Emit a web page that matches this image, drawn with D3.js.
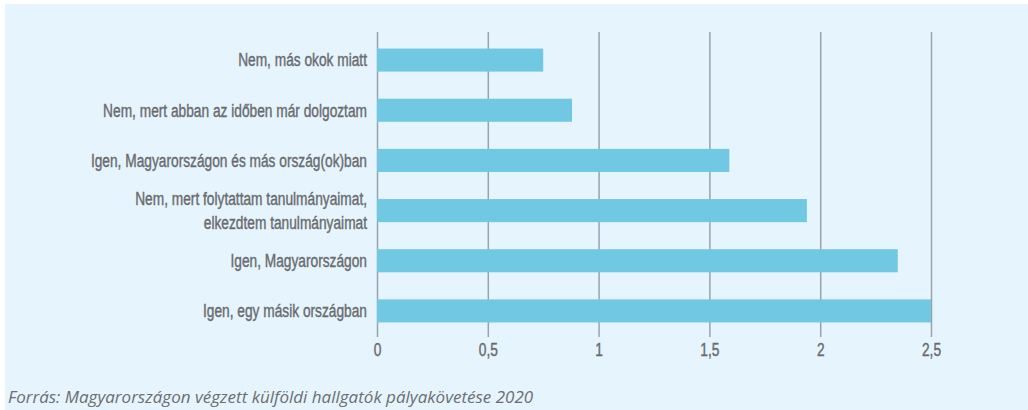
<!DOCTYPE html>
<html>
<head>
<meta charset="utf-8">
<script src="https://d3js.org/d3.v7.min.js"></script>
<style>
  body { margin: 0; background: #ffffff; }
  svg { display: block; }
  .cat text, .axis text { font-family: "Liberation Sans", Arial, sans-serif; fill: #6a6b6e; stroke: #6a6b6e; stroke-width: 0.4px; }
  .source { font-family: "Open Sans", sans-serif; font-style: italic; fill: #6d6e71; }
</style>
</head>
<body>
<div class="wrapper"></div>
<script>
// data
var categories = [
  "Nem, más okok miatt",
  "Nem, mert abban az időben már dolgoztam",
  "Igen, Magyarországon és más ország(ok)ban",
  "Nem, mert folytattam tanulmányaimat,\nelkezdtem tanulmányaimat",
  "Igen, Magyarországon",
  "Igen, egy másik országban"
];
var values = [0.75, 0.88, 1.59, 1.94, 2.35, 2.5];
var tickValues = [0, 0.5, 1, 1.5, 2, 2.5];
var sourceText = "Forrás: Magyarországon végzett külföldi hallgatók pályakövetése 2020";

// dimensions
var W = 1028, H = 410;
var plot = {left: 377, right: 931, top: 32, bottom: 337};
var fontSize = 18;

var svg = d3.select(".wrapper")
  .append("svg")
    .attr("width", W)
    .attr("height", H);

// light blue panel
svg.append("rect")
  .attr("x", 5).attr("y", 4)
  .attr("width", W - 5).attr("height", H - 4)
  .attr("fill", "#e5f4fd");

var x = d3.scaleLinear()
  .domain([0, 2.5])
  .range([plot.left, plot.right]);

var y = d3.scaleBand()
  .domain(categories)
  .range([35, 336])
  .paddingInner(0.54)
  .paddingOuter(0.27);

// hungarian decimal comma
var hu = d3.formatLocale({decimal: ",", thousands: " ", grouping: [3], currency: ["", " Ft"]});
var fmt = hu.format("~g");

// the original uses a condensed font: measure one label and squeeze horizontally
var probe = svg.append("text")
  .style("font-family", "'Liberation Sans', Arial, sans-serif")
  .style("font-size", fontSize + "px")
  .text(categories[1]);
var squeeze = 264 / probe.node().getComputedTextLength();
probe.remove();

// gridlines + ticks
var xAxis = svg.append("g")
  .attr("class", "axis")
  .attr("transform", "translate(0," + plot.bottom + ")")
  .call(d3.axisBottom(x)
    .tickValues(tickValues)
    .tickFormat(fmt)
    .tickSize(-(plot.bottom - plot.top)));

xAxis.select(".domain").remove();
xAxis.selectAll("line")
  .attr("stroke", "#9aa3ab")
  .attr("stroke-width", 1.5);
xAxis.selectAll("text")
  .attr("y", 6)
  .attr("dy", "0.71em")
  .attr("transform", "scale(" + squeeze + ",1)")
  .style("font-size", fontSize + "px");

// bars
svg.selectAll("myBar")
  .data(categories)
  .enter()
  .append("rect")
    .attr("x", x(0))
    .attr("y", function(d) { return y(d); })
    .attr("width", function(d, i) { return x(values[i]) - x(0); })
    .attr("height", y.bandwidth())
    .attr("fill", "#71c8e3");

// category labels
var cat = svg.append("g").attr("class", "cat");
cat.selectAll("text")
  .data(categories)
  .enter()
  .append("text")
    .attr("text-anchor", "end")
    .style("font-size", fontSize + "px")
    .attr("transform", function(d) {
      return "translate(" + (plot.left - 10) + "," + (y(d) + y.bandwidth() / 2) + ") scale(" + squeeze + ",1)";
    })
    .each(function(d) {
      var lines = d.split("\n");
      var t = d3.select(this);
      lines.forEach(function(l, k) {
        t.append("tspan")
          .attr("x", 0)
          .attr("y", (k - (lines.length - 1) / 2) * 24)
          .attr("dy", "0.35em")
          .text(l);
      });
    });

// source note
svg.append("text")
  .attr("class", "source")
  .attr("x", 8)
  .attr("y", 403)
  .style("font-size", "17px")
  .text(sourceText);
</script>
</body>
</html>
